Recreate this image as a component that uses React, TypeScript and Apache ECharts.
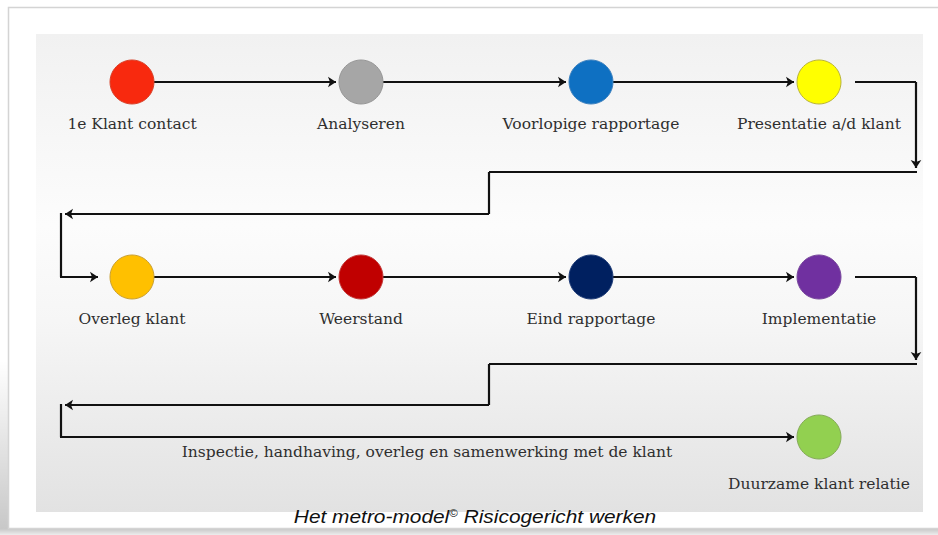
import React, { useEffect, useRef } from "react";
import * as echarts from "echarts";

// ---- content ----
const steps = [
  "1e Klant contact",
  "Analyseren",
  "Voorlopige rapportage",
  "Presentatie a/d klant",
  "Overleg klant",
  "Weerstand",
  "Eind rapportage",
  "Implementatie",
  "Duurzame klant relatie",
];
const stepColors = [
  "#f8290e",
  "#a6a6a6",
  "#0e70c2",
  "#ffff00",
  "#ffc000",
  "#c00000",
  "#002060",
  "#7030a0",
  "#92d050",
];
const stepBorders = [
  "#d8432c",
  "#979797",
  "#3f82bf",
  "#b9b33a",
  "#c9a035",
  "#c23a3a",
  "#23407a",
  "#7a4a9e",
  "#86aa5a",
];
const stepCol = [0, 1, 2, 3, 0, 1, 2, 3, 3];
const stepRow = [0, 0, 0, 0, 1, 1, 1, 1, 2];
const bottomLineLabel = "Inspectie, handhaving, overleg en samenwerking met de klant";
const captionMain = "Het metro-model";
const captionSup = "©";
const captionRest = " Risicogericht werken";

// ---- layout ----
const W = 938;
const H = 535;
const colX = [132, 361, 591, 819];
const rowY = [82, 277, 437];
const R = 22;
const turnRight = 916;
const turnMid = 489;
const turnLeft = 61;
const labelFont = "'DejaVu Serif', 'Liberation Serif', serif";
const labelSize = 15.5;
const labelColor = "#2f2f2f";

export default function App() {
  const ref = useRef<HTMLDivElement>(null);

  useEffect(() => {
    if (!ref.current) return;
    const chart = echarts.init(ref.current, undefined, { renderer: "svg" });

    const nodeData = steps.map((name, i) => ({
      name,
      value: [colX[stepCol[i]], rowY[stepRow[i]]],
      itemStyle: { color: stepColors[i], borderColor: stepBorders[i], borderWidth: 1, opacity: 1 },
      label: { distance: stepRow[i] === 2 ? 16 : 11 },
    }));

    // connectors
    const plain: number[][][] = [];
    const arrows: any[] = [];
    for (let i = 0; i < steps.length - 1; i++) {
      if (stepRow[i] === stepRow[i + 1] && stepCol[i + 1] === stepCol[i] + 1) {
        const y = rowY[stepRow[i]];
        arrows.push({ coords: [[colX[stepCol[i]] + R, y], [colX[stepCol[i + 1]] - R - 3, y]] });
      }
    }
    [0, 1].forEach((r) => {
      const y0 = rowY[r];
      const y1 = rowY[r + 1];
      const yDrop = r === 0 ? 172 : 364;
      const yMid = r === 0 ? 214 : 405;
      plain.push([[colX[3] + R + 14, y0], [turnRight, y0]]);
      arrows.push({ coords: [[turnRight, y0], [turnRight, yDrop - 4]] });
      plain.push([[turnRight + 1, yDrop], [turnMid, yDrop]]);
      plain.push([[turnMid, yDrop], [turnMid, yMid]]);
      arrows.push({ coords: [[turnMid, yMid], [turnLeft + 4, yMid]] });
      plain.push([[turnLeft, yMid - 1], [turnLeft, y1]]);
      if (r === 0) {
        arrows.push({ coords: [[turnLeft - 1, y1], [colX[0] - R - 12, y1]] });
      } else {
        arrows.push({
          coords: [[turnLeft - 1, y1], [colX[3] - R - 3, y1]],
          label: {
            show: true,
            formatter: bottomLineLabel,
            position: "insideMiddleBottom",
            distance: 7,
            fontFamily: labelFont,
            fontSize: labelSize,
            color: labelColor,
          },
        });
      }
    });

    chart.setOption({
      animation: false,
      grid: { left: 0, right: 0, top: 0, bottom: 0 },
      xAxis: { type: "value", min: 0, max: W, show: false },
      yAxis: { type: "value", min: 0, max: H, inverse: true, show: false },
      graphic: {
        elements: [
          {
            type: "rect",
            z: 0,
            shape: { x: 0, y: 360, width: 9, height: 172 },
            style: {
              fill: new echarts.graphic.LinearGradient(0, 0, 0, 1, [
                { offset: 0, color: "rgba(0,0,0,0)" },
                { offset: 1, color: "rgba(0,0,0,0.22)" },
              ]),
            },
          },
          {
            type: "rect",
            z: 0,
            shape: { x: 0, y: 529, width: W, height: 6 },
            style: {
              fill: new echarts.graphic.LinearGradient(0, 0, 0, 1, [
                { offset: 0, color: "#c9c9c9" },
                { offset: 1, color: "#ededed" },
              ]),
            },
          },
          {
            type: "rect",
            z: 0,
            shape: { x: 8.5, y: 7.5, width: 940, height: 521 },
            style: { fill: "#ffffff", stroke: "#d4d4d4", lineWidth: 1.5 },
          },
          {
            type: "rect",
            z: 0,
            shape: { x: 36, y: 34, width: 887, height: 478 },
            style: {
              fill: new echarts.graphic.LinearGradient(0, 0, 0, 1, [
                { offset: 0, color: "#f1f1f1" },
                { offset: 0.4, color: "#fcfcfc" },
                { offset: 0.6, color: "#f6f6f6" },
                { offset: 1, color: "#e2e2e2" },
              ]),
            },
          },
          {
            type: "text",
            z: 5,
            x: 475,
            y: 517,
            scaleX: 1.16,
            style: {
              text: `{a|${captionMain}}{s|${captionSup}}{a|${captionRest}}`,
              align: "center",
              verticalAlign: "middle",
              textAlign: "center",
              textVerticalAlign: "middle",
              rich: {
                a: {
                  fontFamily: "'Liberation Sans', Arial, sans-serif",
                  fontStyle: "italic",
                  fontSize: 18,
                  fill: "#111111",
                  color: "#111111",
                },
                s: {
                  fontFamily: "'Liberation Sans', Arial, sans-serif",
                  fontSize: 10,
                  fill: "#111111",
                  color: "#111111",
                  verticalAlign: "top",
                  padding: [0, 0, 8, 0],
                },
              },
            },
          },
        ],
      },
      series: [
        {
          type: "lines",
          coordinateSystem: "cartesian2d",
          z: 3,
          symbol: ["none", "none"],
          lineStyle: { color: "#111111", width: 2.2, opacity: 1, curveness: 0 },
          data: plain.map((c) => ({ coords: c })),
        },
        {
          type: "lines",
          coordinateSystem: "cartesian2d",
          z: 3,
          symbol: ["none", "arrow"],
          symbolSize: 8,
          lineStyle: { color: "#111111", width: 2.2, opacity: 1, curveness: 0 },
          data: arrows,
        },
        {
          type: "scatter",
          z: 4,
          symbol: "circle",
          symbolSize: 2 * R,
          data: nodeData,
          label: {
            show: true,
            position: "bottom",
            formatter: (p: any) => p.name,
            fontFamily: labelFont,
            fontSize: labelSize,
            color: labelColor,
          },
        },
      ],
    });

    return () => chart.dispose();
  }, []);

  return (
    <div
      ref={ref}
      style={{ position: "absolute", left: 0, top: 0, width: W, height: H }}
    />
  );
}
